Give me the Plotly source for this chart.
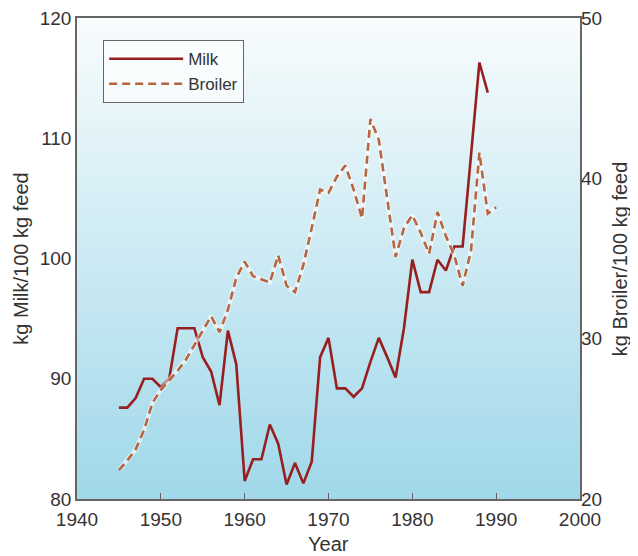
import plotly.graph_objects as go

# ---- data ----
milk_years = list(range(1945, 1990))
milk_values = [87.6, 87.6, 88.4, 90.0, 90.0, 89.3, 90.0, 94.2, 94.2, 94.2,
               91.8, 90.6, 87.8, 94.0, 91.2, 81.5, 83.3, 83.3, 86.2, 84.6,
               81.2, 83.0, 81.3, 83.1, 91.8, 93.4, 89.2, 89.2, 88.5, 89.2,
               91.4, 93.4, 91.8, 90.1, 94.2, 99.9, 97.2, 97.2, 99.9, 99.0,
               101.0, 101.0, 108.6, 116.3, 113.8]

broiler_years = list(range(1945, 1991))
broiler_values = [21.8, 22.4, 23.1, 24.3, 26.0, 26.8, 27.4, 28.0, 28.7, 29.6,
                  30.5, 31.4, 30.4, 31.8, 33.8, 34.8, 33.9, 33.7, 33.5, 35.2,
                  33.3, 32.9, 34.6, 36.9, 39.3, 39.1, 40.1, 40.8, 39.3, 37.5,
                  43.7, 42.4, 38.8, 35.1, 36.9, 37.7, 36.6, 35.3, 37.9, 36.4,
                  35.2, 33.3, 35.5, 41.6, 37.8, 38.2]

x_ticks = [1940, 1950, 1960, 1970, 1980, 1990, 2000]
milk_ticks = [80, 90, 100, 110, 120]
broiler_ticks = [20, 30, 40, 50]

x_title = "Year"
milk_title = "kg Milk/100 kg feed"
broiler_title = "kg Broiler/100 kg feed"

MILK_COLOR = "#981f1f"
BROILER_COLOR = "#b5653f"
FONT = "Liberation Sans, Arial, sans-serif"
TEXT_COLOR = "#333333"

fig = go.Figure()

fig.add_trace(go.Scatter(
    x=milk_years, y=milk_values, name="Milk", mode="lines",
    line=dict(color=MILK_COLOR, width=2.6)))

# light halo under the dashed line
fig.add_trace(go.Scatter(
    x=broiler_years, y=broiler_values, mode="lines", yaxis="y2",
    showlegend=False, hoverinfo="skip",
    line=dict(color="rgba(255,255,255,0.55)", width=4.5)))

fig.add_trace(go.Scatter(
    x=broiler_years, y=broiler_values, name="Broiler", mode="lines",
    yaxis="y2", line=dict(color=BROILER_COLOR, width=2.6, dash="8px,5px")))

# vertical gradient background of the plot area
top = (248, 252, 253)
bottom = (160, 216, 234)
n = 70
shapes = []
for i in range(n):
    t = (i + 0.5) / n  # 0 at top, 1 at bottom
    c = tuple(round(top[k] + (bottom[k] - top[k]) * t) for k in range(3))
    y1 = 1 - i / n
    y0 = 1 - (i + 1) / n
    shapes.append(dict(type="rect", xref="x domain", yref="y domain",
                       x0=0, x1=1, y0=y0 - 0.002, y1=y1 + 0.002,
                       fillcolor="rgb(%d,%d,%d)" % c, line=dict(width=0),
                       layer="below"))

title_font = dict(family=FONT, size=20, color=TEXT_COLOR)
annotations = [
    dict(text=x_title, xref="paper", yref="paper", x=0.5, y=-0.094,
         xanchor="center", yanchor="middle", showarrow=False, font=title_font),
    dict(text=milk_title, xref="paper", yref="paper", x=-0.113, y=0.5,
         xanchor="center", yanchor="middle", textangle=-90, showarrow=False,
         font=title_font),
    dict(text=broiler_title, xref="paper", yref="paper", x=1.079, y=0.5,
         xanchor="center", yanchor="middle", textangle=-90, showarrow=False,
         font=title_font),
]

fig.update_layout(
    width=622, height=548,
    margin=dict(l=69, r=50, t=10, b=57),
    paper_bgcolor="white", plot_bgcolor="white",
    font=dict(family=FONT, size=19, color=TEXT_COLOR),
    shapes=shapes,
    annotations=annotations,
    showlegend=True,
    legend=dict(x=0.052, y=0.954, xanchor="left", yanchor="top",
                bgcolor="rgba(255,255,255,0.6)", bordercolor="#666666",
                borderwidth=1, itemwidth=74, tracegroupgap=0,
                font=dict(family=FONT, size=17, color=TEXT_COLOR)),
    xaxis=dict(range=[1940, 2000], tickvals=x_ticks, ticks="inside",
               ticklen=6, tickcolor="#666666", tickwidth=1.2,
               showgrid=False, zeroline=False, automargin=False,
               showline=True, linecolor="#666666", linewidth=1.5, mirror=True,
               ticklabelstandoff=2, ticklabeloverflow="allow",
               tickfont=dict(size=19)),
    yaxis=dict(range=[80, 120], tickvals=milk_ticks, showgrid=False,
               zeroline=False, showline=True, linecolor="#666666",
               linewidth=1.5, mirror=True, ticks="", automargin=False,
               ticklabeloverflow="allow", tickfont=dict(size=19)),
    yaxis2=dict(range=[20, 50], tickvals=broiler_ticks, overlaying="y",
                side="right", showgrid=False, zeroline=False, showline=False,
                ticks="", automargin=False, ticklabeloverflow="allow",
                tickfont=dict(size=19)),
)

fig.write_html("out.html")
